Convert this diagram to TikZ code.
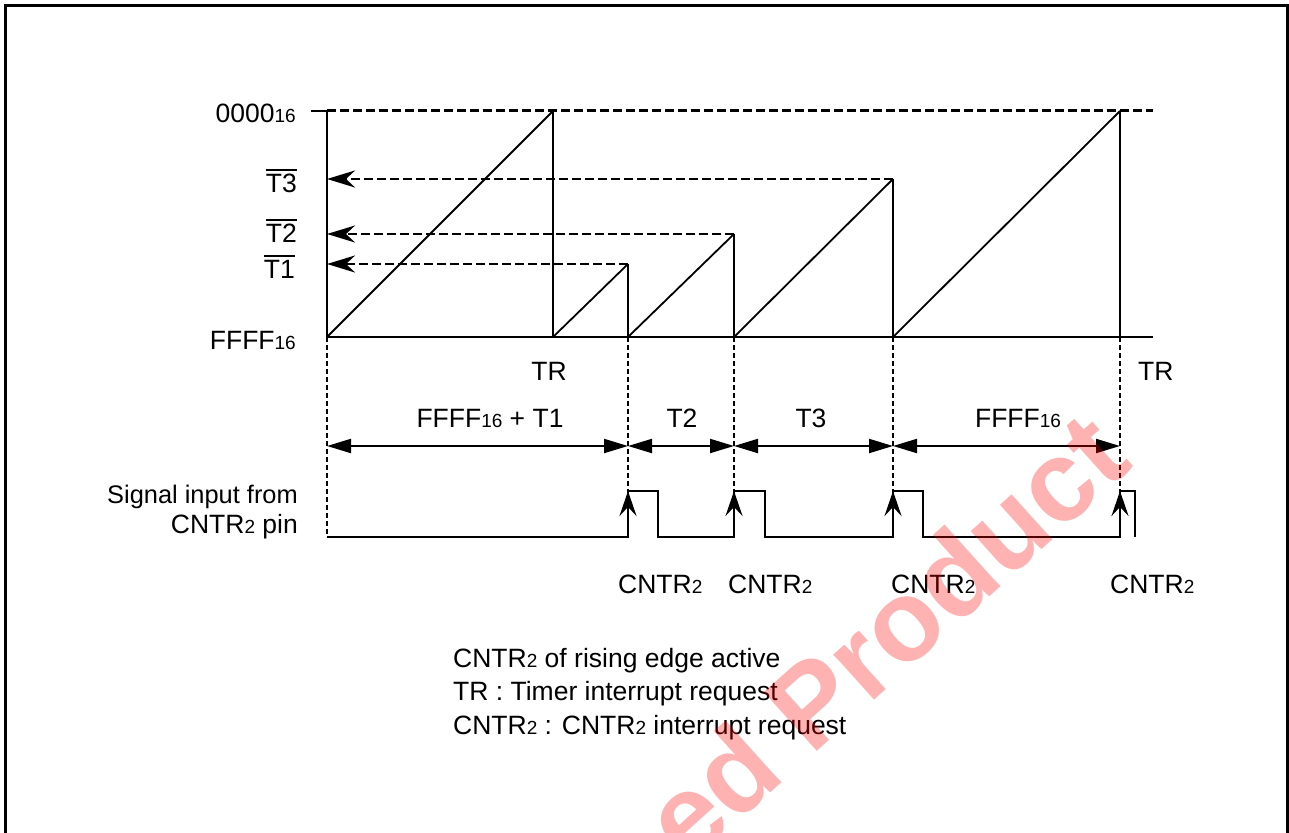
\documentclass[tikz,border=0pt]{standalone}
\usepackage{fontspec}
\setmainfont{Liberation Sans}
\usetikzlibrary{arrows.meta}
\newcommand{\sx}[1]{{\fontsize{19}{19}\selectfont #1}}
\newcommand{\ovl}[1]{\vbox{\hrule height 1.8pt\kern 2.5pt\hbox{#1}}}
\begin{document}
\begin{tikzpicture}[x=1pt,y=-1pt,
  lbl/.style={font=\fontsize{26.5}{32}\selectfont, inner sep=0pt},
  solidline/.style={line width=2.4pt, line cap=butt},
  ramp/.style={line width=1.8pt},
  dashv/.style={line width=2.8pt, dash pattern=on 5pt off 3pt},
  dashh/.style={line width=3pt, dash pattern=on 9pt off 4pt},
  dasharr/.style={line width=2.8pt, dash pattern=on 9pt off 4pt, -{Stealth[length=28pt,width=17pt,inset=9pt]}},
  dim/.style={line width=2pt, {Triangle[length=24pt,width=14pt]}-{Triangle[length=24pt,width=14pt]}},
  upar/.style={line width=2.4pt, -{Stealth[length=25pt,width=17pt,inset=9pt]}},
  frame/.style={line width=3pt},
  wmark/.style={rotate=42, text=red, opacity=0.3, inner sep=0pt, font=\bfseries\fontsize{115}{115}\selectfont}
]
\useasboundingbox (0,0) rectangle (1289,832);
\clip (0,0) rectangle (1289,832);
% frame
\draw[frame] (5.5,840) -- (5.5,6) -- (1287.5,6) -- (1287.5,840);

% key coordinates
\coordinate (tick) at (311,111);
\coordinate (A0) at (327,111);
\coordinate (A) at (327,337);
\coordinate (Rtop) at (1153,111);
\coordinate (Rbot) at (1153,337);
\coordinate (B) at (553,337);   \coordinate (Bt) at (553,111);
\coordinate (C) at (628,337);   \coordinate (Ct) at (628,264);
\coordinate (D) at (734,337);   \coordinate (Dt) at (734,234);
\coordinate (E) at (893,337);   \coordinate (Et) at (893,179);
\coordinate (F) at (1120,337);  \coordinate (Ft) at (1120,111);
\coordinate (L1) at (327,264);
\coordinate (L2) at (327,234);
\coordinate (L3) at (327,179);

% axes
\draw[solidline] (tick) -- (A0);
\draw[dashh] (A0) -- (Rtop);
\draw[solidline] (A0) -- (A) -- (Rbot);

% sawtooth
\draw[ramp] (A) -- (Bt);
\draw[ramp] (B) -- (Ct);
\draw[ramp] (C) -- (Dt);
\draw[ramp] (D) -- (Et);
\draw[ramp] (E) -- (Ft);
\draw[solidline] (Bt) -- (B);
\draw[solidline] (Ct) -- (C);
\draw[solidline] (Dt) -- (D);
\draw[solidline] (Et) -- (E);
\draw[solidline] (Ft) -- (F);

% reload arrows
\draw[dasharr] (Ct) -- (L1);
\draw[dasharr] (Dt) -- (L2);
\draw[dasharr] (Et) -- (L3);

% signal coordinates
\coordinate (SA) at (327,537);
\coordinate (SC) at (628,537);  \coordinate (SCh) at (628,491);
\coordinate (SCe) at (658,491); \coordinate (SCf) at (658,537);
\coordinate (SD) at (734,537);  \coordinate (SDh) at (734,491);
\coordinate (SDe) at (765,491); \coordinate (SDf) at (765,537);
\coordinate (SE) at (893,537);  \coordinate (SEh) at (893,491);
\coordinate (SEe) at (923,491); \coordinate (SEf) at (923,537);
\coordinate (SF) at (1120,537); \coordinate (SFh) at (1120,491);
\coordinate (SFe) at (1135,491); \coordinate (SFf) at (1135,537);

% dashed verticals
\draw[dashv] (A) -- (SA);
\draw[dashv] (C) -- (SCh);
\draw[dashv] (D) -- (SDh);
\draw[dashv] (E) -- (SEh);
\draw[dashv] (F) -- (SFh);

% dimension arrows
\coordinate (dA) at (327,446);
\coordinate (dC) at (628,446);
\coordinate (dD) at (734,446);
\coordinate (dE) at (893,446);
\coordinate (dF) at (1120,446);
\draw[dim] (dA) -- (dC);
\draw[dim] (dC) -- (dD);
\draw[dim] (dD) -- (dE);
\draw[dim] (dE) -- (dF);

% signal
\draw[solidline, line join=miter] (SA) -- (SC) -- (SCh) -- (SCe) -- (SCf) -- (SD) -- (SDh) -- (SDe) -- (SDf)
  -- (SE) -- (SEh) -- (SEe) -- (SEf) -- (SF) -- (SFh) -- (SFe) -- (SFf);
\draw[upar] (SC) -- (SCh);
\draw[upar] (SD) -- (SDh);
\draw[upar] (SE) -- (SEh);
\draw[upar] (SF) -- (SFh);

% left labels
\node[lbl, anchor=base east] (l0) at (296,123) {0000\sx{16}};
\node[lbl, anchor=base east] (l3) at (297,192) {\ovl{T3}};
\node[lbl, anchor=base east] (l2) at (297,242) {\ovl{T2}};
\node[lbl, anchor=base east] (l1) at (295,278) {\ovl{T1}};
\node[lbl, anchor=base east] (lf) at (296,349) {FFFF\sx{16}};

% TR labels
\node[lbl, anchor=base] (tr1) at (549,380) {TR};
\node[lbl, anchor=base west] (tr2) at (1138,380) {TR};

% interval labels
\node[lbl, anchor=base] (i1) at (490,427) {FFFF\sx{16} + T1};
\node[lbl, anchor=base] (i2) at (682,427) {T2};
\node[lbl, anchor=base] (i3) at (811,427) {T3};
\node[lbl, anchor=base] (i4) at (1018,427) {FFFF\sx{16}};

% signal label
\node[lbl, font=\fontsize{25.4}{30}\selectfont, anchor=base east] (s1) at (298,503) {Signal input from};
\node[lbl, anchor=base east] (s2) at (298,533) {CNTR\sx{2} pin};

% CNTR2 labels
\node[lbl, anchor=base west] (c1) at (618,593) {CNTR\sx{2}};
\node[lbl, anchor=base west] (c2) at (728,593) {CNTR\sx{2}};
\node[lbl, anchor=base west] (c3) at (891,593) {CNTR\sx{2}};
\node[lbl, anchor=base west] (c4) at (1110,593) {CNTR\sx{2}};

% legend
\node[lbl, anchor=base west] (g1) at (453,667) {CNTR\sx{2} of rising edge active};
\node[lbl, anchor=base west] (g2) at (453,700) {TR : Timer interrupt request};
\node[lbl, anchor=base west] (g3) at (453,734) {CNTR\sx{2} : CNTR\sx{2} interrupt request};

% watermark
\node[wmark] (wm) at (884,636) {ed Product};
\end{tikzpicture}
\end{document}
